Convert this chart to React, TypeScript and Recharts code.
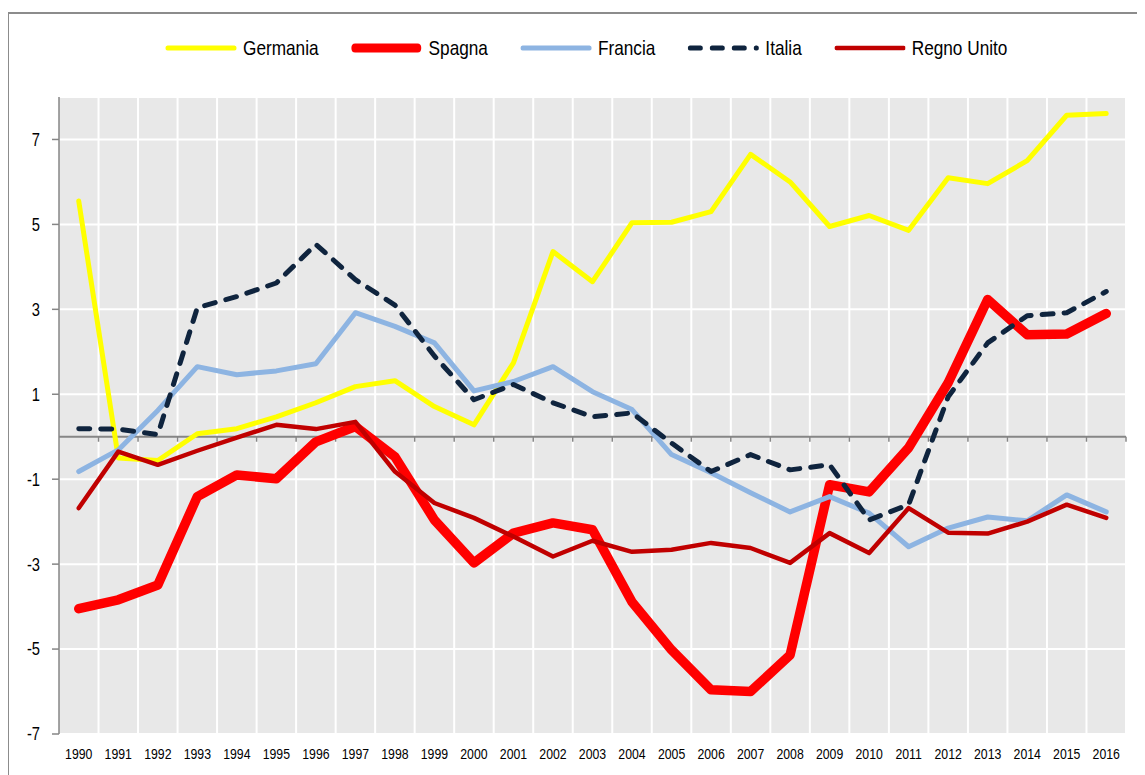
import { CartesianGrid, Line, LineChart, ReferenceLine, XAxis, YAxis } from "recharts";

const years = [
  "1990", "1991", "1992", "1993", "1994", "1995", "1996", "1997", "1998",
  "1999", "2000", "2001", "2002", "2003", "2004", "2005", "2006", "2007",
  "2008", "2009", "2010", "2011", "2012", "2013", "2014", "2015", "2016",
];

const germania = [5.55, -0.5, -0.56, 0.07, 0.19, 0.47, 0.8, 1.18, 1.32, 0.71, 0.28, 1.74, 4.36, 3.65, 5.04, 5.05, 5.3, 6.65, 6.0, 4.95, 5.21, 4.86, 6.1, 5.96, 6.5, 7.57, 7.61];
const spagna = [-4.05, -3.84, -3.49, -1.41, -0.9, -0.99, -0.12, 0.24, -0.47, -1.96, -2.97, -2.27, -2.03, -2.19, -3.89, -5.02, -5.96, -6.0, -5.14, -1.13, -1.3, -0.26, 1.27, 3.23, 2.4, 2.42, 2.9];
const francia = [-0.82, -0.31, 0.62, 1.65, 1.46, 1.55, 1.72, 2.92, 2.6, 2.21, 1.08, 1.3, 1.65, 1.06, 0.64, -0.42, -0.85, -1.32, -1.77, -1.41, -1.8, -2.59, -2.15, -1.89, -1.98, -1.37, -1.77];
const italia = [0.19, 0.18, 0.05, 3.04, 3.3, 3.62, 4.53, 3.7, 3.1, 1.9, 0.87, 1.23, 0.8, 0.47, 0.56, -0.15, -0.82, -0.42, -0.78, -0.66, -1.96, -1.6, 0.94, 2.21, 2.85, 2.92, 3.42];
const regnoUnito = [-1.68, -0.35, -0.66, -0.33, -0.02, 0.28, 0.18, 0.35, -0.82, -1.56, -1.91, -2.35, -2.82, -2.45, -2.71, -2.66, -2.5, -2.62, -2.97, -2.27, -2.74, -1.68, -2.26, -2.28, -2.0, -1.6, -1.91];

const yTicks = [-7, -5, -3, -1, 1, 3, 5, 7];

const data = years.map((year, i) => ({
  year,
  Germania: germania[i],
  Spagna: spagna[i],
  Francia: francia[i],
  Italia: italia[i],
  "Regno Unito": regnoUnito[i],
}));

const series = [
  { key: "Germania", color: "#ffff00", width: 5 },
  { key: "Spagna", color: "#ff0000", width: 9.5 },
  { key: "Francia", color: "#8db4e2", width: 5 },
  { key: "Italia", color: "#0f243e", width: 5, dash: "11 11" },
  { key: "Regno Unito", color: "#c00000", width: 4.5 },
];

// no narrow face installed, so squeeze Liberation Sans horizontally
const font = '"Liberation Sans", Arial, sans-serif';
const squeeze = 0.82;
const axisGrey = "#868686";
const frameGrey = "#8c8c8c";
const W = 1145;
const H = 775;
const margin = { top: 97, right: 19, bottom: 11, left: 9 };
const plotW = W - margin.left - margin.right - 50;
const halfBand = plotW / years.length / 2;

function XTick(props: any) {
  const { x, y, payload } = props;
  return (
    <g transform={`translate(${x},${y})`}>
      <text transform={`scale(${squeeze},1)`} textAnchor="middle" dy="0.71em" fontSize={15} fill="#000" fontFamily={font}>
        {payload.value}
      </text>
    </g>
  );
}

function YTick(props: any) {
  const { x, y, payload } = props;
  return (
    <g transform={`translate(${x},${y})`}>
      <text transform={`scale(${squeeze},1)`} textAnchor="end" dy="0.355em" fontSize={18} fill="#000" fontFamily={font}>
        {payload.value}
      </text>
    </g>
  );
}

function ZeroAxis(props: any) {
  const { x1, x2, y1 } = props;
  const step = (x2 - x1) / years.length;
  return (
    <g>
      <line x1={x1} x2={x2} y1={y1} y2={y1} stroke={axisGrey} strokeWidth={2} />
      {years.map((_, i) => (
        <line
          key={i}
          x1={x1 + (i + 1) * step}
          x2={x1 + (i + 1) * step}
          y1={y1}
          y2={y1 + 5}
          stroke={axisGrey}
          strokeWidth={1.5}
        />
      ))}
    </g>
  );
}

function LegendRow() {
  const k = 1 / squeeze;
  return (
    <div
      style={{
        position: "absolute",
        left: 165,
        top: 35,
        height: 26,
        display: "flex",
        alignItems: "center",
        gap: 32 * k,
        fontFamily: font,
        fontSize: 21,
        color: "#000",
        whiteSpace: "nowrap",
        transform: `scaleX(${squeeze})`,
        transformOrigin: "left center",
      }}
    >
      {series.map((s) => (
        <div key={s.key} style={{ display: "flex", alignItems: "center" }}>
          <svg width={72 * k} height={12} style={{ marginRight: 6 * k }}>
            <line
              x1={(s.width / 2) * k}
              x2={(72 - s.width / 2) * k}
              y1={6}
              y2={6}
              stroke={s.color}
              strokeWidth={Math.min(s.width, 9)}
              strokeLinecap="round"
              strokeDasharray={s.dash ? "13.4 13.4" : undefined}
            />
          </svg>
          <span>{s.key}</span>
        </div>
      ))}
    </div>
  );
}

export default function App() {
  return (
    <div
      style={{
        position: "relative",
        width: W,
        height: H,
        margin: "-8px 0 0 -8px",
        overflow: "hidden",
        background: "#fff",
      }}
    >
      <LegendRow />
      <div style={{ position: "absolute", left: 0, top: 0 }}>
        <LineChart width={W} height={H} data={data} margin={margin}>
          <CartesianGrid
            fill="#e8e8e8"
            fillOpacity={1}
            stroke="#ffffff"
            strokeWidth={2}
            verticalCoordinatesGenerator={({ offset }: any) =>
              years.map((_, i) => offset.left + ((i + 1) * offset.width) / years.length)
            }
          />
          <XAxis
            dataKey="year"
            axisLine={false}
            tickLine={false}
            tickSize={0}
            tickMargin={14}
            height={30}
            interval={0}
            padding={{ left: halfBand, right: halfBand }}
            tick={XTick}
          />
          <YAxis
            domain={[-7, 8]}
            ticks={yTicks}
            width={50}
            allowDataOverflow
            axisLine={{ stroke: axisGrey, strokeWidth: 1.5 }}
            tickLine={{ stroke: axisGrey, strokeWidth: 1.5 }}
            tickSize={7}
            tickMargin={12}
            tick={YTick}
          />
          <ReferenceLine y={0} shape={ZeroAxis} />
          {series.map((s) => (
            <Line
              key={s.key}
              type="linear"
              dataKey={s.key}
              stroke={s.color}
              strokeWidth={s.width}
              strokeDasharray={s.dash}
              strokeLinecap="round"
              strokeLinejoin="round"
              dot={false}
              activeDot={false}
              isAnimationActive={false}
            />
          ))}
        </LineChart>
      </div>
      <div style={{ position: "absolute", left: 7, top: 12, width: 1200, height: 2, background: frameGrey }} />
      <div style={{ position: "absolute", left: 7, top: 12, width: 2, height: 800, background: frameGrey }} />
    </div>
  );
}
